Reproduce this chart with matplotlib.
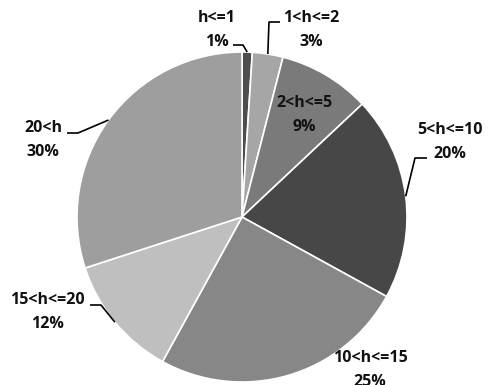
import numpy as np
import matplotlib
matplotlib.use('Agg')
import matplotlib.pyplot as plt

# hauteurs par classe (part en %)
classes = ['h<=1', '1<h<=2', '2<h<=5', '5<h<=10', '10<h<=15', '15<h<=20', '20<h']
parts = [1, 3, 9, 20, 25, 12, 30]
couleurs = ['#4d4d4d', '#a6a6a6', '#7a7a7a', '#474747', '#878787', '#bfbfbf', '#9e9e9e']

W, H = 493, 385
cx, cy, r = 242, H - 217, 165

fig = plt.figure(figsize=(W / 100, H / 100), dpi=100)
ax = fig.add_axes([0, 0, 1, 1])

ax.pie(parts, colors=couleurs, startangle=90, counterclock=False,
       center=(cx, cy), radius=r, frame=True,
       wedgeprops=dict(edgecolor='white', linewidth=1.2))
ax.set_xlim(0, W)
ax.set_ylim(0, H)
ax.set_aspect('equal')
ax.axis('off')

# position du texte (pixels, depuis le haut) et coude du trait de rappel
etiq = [
    ((217, 18), (233, 243)),
    ((311, 18), (280, 269)),
    ((304, 103), None),
    ((450, 130), (427, 415)),
    ((370, 358), None),
    ((47, 300), (90, 101)),
    ((43, 128), (67, 78)),
]
leader_y = [45, 22, None, 158, None, 305, 133]

font = dict(family='Open Sans', fontweight='bold', fontsize=11.5, color='#111111')

for i, (nom, p) in enumerate(zip(classes, parts)):
    (tx, ty), coude = etiq[i]
    ax.text(tx, H - ty, nom, ha='center', va='center', **font)
    ax.text(tx, H - ty - 24, f'{p}%', ha='center', va='center', **font)
    if coude is not None:
        a = np.deg2rad(90 - (sum(parts[:i]) + p / 2) * 3.6)
        ex, ey = cx + r * np.cos(a), cy + r * np.sin(a)
        ly = H - leader_y[i]
        ax.plot([coude[0], coude[1], ex], [ly, ly, ey], color='black', lw=1.2,
                solid_capstyle='butt')

fig.savefig('out.png', dpi=100)
